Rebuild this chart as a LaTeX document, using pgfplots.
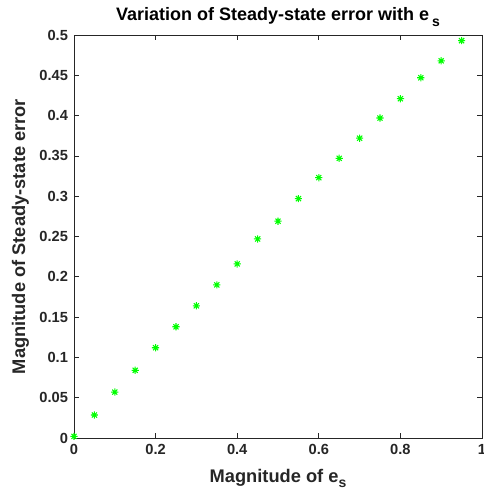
\documentclass[border=0pt]{standalone}
\usepackage{fontspec}
\setmainfont{Liberation Sans}
\usepackage{pgfplots}
\pgfplotsset{compat=1.18}
\definecolor{mgreen}{rgb}{0,1,0}
\pgfdeclareplotmark{mstar}{%
  \pgfpathmoveto{\pgfqpoint{-\pgfplotmarksize}{0pt}}\pgfpathlineto{\pgfqpoint{\pgfplotmarksize}{0pt}}%
  \pgfpathmoveto{\pgfqpoint{0pt}{-\pgfplotmarksize}}\pgfpathlineto{\pgfqpoint{0pt}{\pgfplotmarksize}}%
  \pgfpathmoveto{\pgfqpoint{-0.707\pgfplotmarksize}{-0.707\pgfplotmarksize}}\pgfpathlineto{\pgfqpoint{0.707\pgfplotmarksize}{0.707\pgfplotmarksize}}%
  \pgfpathmoveto{\pgfqpoint{-0.707\pgfplotmarksize}{0.707\pgfplotmarksize}}\pgfpathlineto{\pgfqpoint{0.707\pgfplotmarksize}{-0.707\pgfplotmarksize}}%
  \pgfusepathqstroke}
\begin{document}
\begin{tikzpicture}
\begin{axis}[
  at={(0,0)}, anchor=south west,
  scale only axis, width=306pt, height=302.25pt,
  xmin=0, xmax=1, ymin=0, ymax=0.5,
  xtick={0,0.2,0.4,0.6,0.8,1},
  ytick={0,0.05,...,0.5},
  tick align=inside, major tick length=4pt,
  axis line style={line width=0.6pt, black!85},
  every tick/.style={line width=0.6pt, black!85},
  /pgf/number format/assume math mode=true,
  /pgf/number format/fixed, /pgf/number format/precision=2,
  tick label style={font=\fontsize{11}{13}\selectfont\bfseries, text=black!85},
  xticklabel style={yshift=-1pt},
  yticklabel style={xshift=-1pt},
  title={\fontsize{13.5}{15}\selectfont\bfseries Variation of Steady-state error with e\,\raisebox{-0.6ex}{\fontsize{10.5}{11}\selectfont s}},
  title style={yshift=-3pt},
  xlabel={\fontsize{13.7}{15}\selectfont\bfseries Magnitude of e\raisebox{-0.55ex}{\fontsize{10.5}{11}\selectfont s}},
  ylabel={\fontsize{13.7}{15}\selectfont\bfseries Magnitude of Steady-state error},
  xlabel style={yshift=-4pt, text=black!85},
  ylabel style={yshift=1pt, text=black!85},
  clip=false,
]
\addplot[only marks, mark=mstar, mark size=2.7pt, color=mgreen, line width=0.8pt] coordinates {
(0,0.002) (0.05,0.0285) (0.1,0.057) (0.15,0.084) (0.2,0.112) (0.25,0.138)
(0.3,0.164) (0.35,0.190) (0.4,0.216) (0.45,0.247) (0.5,0.269) (0.55,0.297)
(0.6,0.323) (0.65,0.347) (0.7,0.372) (0.75,0.397) (0.8,0.421) (0.85,0.447)
(0.9,0.468) (0.95,0.493)
};
\end{axis}
\pgfresetboundingbox
\path[use as bounding box] (-55.5pt,-44.25pt) rectangle (306.75pt,328.5pt);
\end{tikzpicture}
\end{document}
